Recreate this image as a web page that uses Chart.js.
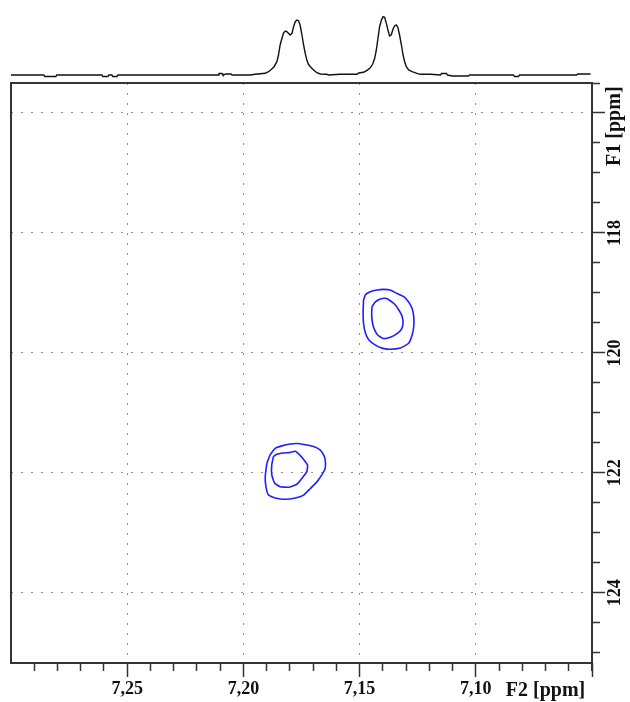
<!DOCTYPE html>
<html>
<head>
<meta charset="utf-8">
<script src="https://cdn.jsdelivr.net/npm/chart.js@4"></script>
<style>
  html, body { margin: 0; padding: 0; background: #fff; }
  #wrap { position: relative; width: 630px; height: 702px; }
  #wrap canvas { position: absolute; left: 0; top: 0; }
</style>
</head>
<body>
<div id="wrap">
  <canvas id="spectrum" width="630" height="702"></canvas>
  <canvas id="projection" width="630" height="83"></canvas>
</div>
<script>
// axis ranges (ppm), both axes run "backwards" as usual for NMR
const f2Min = 7.05, f2Max = 7.30;
const f1Min = 115.5, f1Max = 125.17;

// F2 (1H) ticks: minor every 0.01, labelled every 0.05
const f2TickValues = [7.30, 7.29, 7.28, 7.27, 7.26, 7.25, 7.24, 7.23, 7.22, 7.21, 7.20,
  7.19, 7.18, 7.17, 7.16, 7.15, 7.14, 7.13, 7.12, 7.11, 7.10, 7.09, 7.08, 7.07, 7.06, 7.05];
const f2MajorTicks = [7.25, 7.20, 7.15, 7.10];
const f2TitleAt = 7.07;
const f2Title = 'F2 [ppm]';

// F1 (15N) ticks: minor every 0.5, labelled every 2
const f1TickValues = [115.5, 116, 116.5, 117, 117.5, 118, 118.5, 119, 119.5, 120,
  120.5, 121, 121.5, 122, 122.5, 123, 123.5, 124, 124.5, 125];
const f1MajorTicks = [116, 118, 120, 122, 124];
const f1LabelledTicks = [118, 120, 122, 124];
const f1TitleAt = 116.22;
const f1Title = 'F1 [ppm]';

// 1D projection on top (F2 ppm, arbitrary intensity)
const projPpm = [7.3000, 7.2859, 7.2855, 7.2807, 7.2803, 7.2609, 7.2605, 7.2583, 7.2579, 7.2566,
  7.2562, 7.2544, 7.2540, 7.2109, 7.2105, 7.2092, 7.2088, 7.2075, 7.2053, 7.2049,
  7.1971, 7.1950, 7.1906, 7.1892, 7.1878, 7.1868, 7.1856, 7.1849, 7.1842, 7.1834,
  7.1828, 7.1820, 7.1813, 7.1806, 7.1799, 7.1791, 7.1784, 7.1777, 7.1770, 7.1763,
  7.1756, 7.1748, 7.1741, 7.1734, 7.1727, 7.1720, 7.1712, 7.1698, 7.1684, 7.1669,
  7.1641, 7.1634, 7.1583, 7.1511, 7.1504, 7.1483, 7.1468, 7.1454, 7.1444, 7.1435,
  7.1428, 7.1421, 7.1414, 7.1406, 7.1399, 7.1392, 7.1385, 7.1378, 7.1371, 7.1364,
  7.1356, 7.1349, 7.1342, 7.1335, 7.1328, 7.1320, 7.1313, 7.1306, 7.1299, 7.1289,
  7.1274, 7.1253, 7.1238, 7.1195, 7.1152, 7.1148, 7.1126, 7.1122, 7.1101, 7.1032,
  7.1027, 7.0838, 7.0834, 7.0816, 7.0812, 7.0566, 7.0562, 7.0506];
const projIntensity = [0, 0, -1.5, -1.5, 0, 0, -1.5, -1.5, 0, 0,
  -1.5, -1.5, 0, 0, 1.5, 1.5, 0, 1, 1, 0,
  0, 0.7, 1.7, 3.3, 6, 8.3, 13.3, 20, 30, 36.7,
  41.7, 44, 43.3, 41.7, 40, 41.7, 48.3, 53.3, 55, 54.3,
  50, 40, 30, 21.7, 15, 10.7, 8.3, 5, 2.3, 1,
  0.7, 0, 0.7, 0.7, 2, 2.7, 4.7, 7.3, 10.7, 16.7,
  25, 36.7, 48.3, 55, 58.3, 57.7, 51.7, 45, 39, 40,
  46, 49.3, 50, 47.3, 40, 30, 20, 13.3, 8.3, 5,
  3.3, 1.7, 0.7, 0.7, 0, 1.5, 1.5, 0, -1, -1,
  0, 0, -1.5, -1.5, 0, 0, 1, 1];

// contour lines [F2 ppm, F1 ppm]
const peakA_outer = [[7.1899, 121.84], [7.1885, 121.70], [7.1863, 121.59], [7.1834, 121.55],
  [7.1799, 121.52], [7.1770, 121.51], [7.1734, 121.53], [7.1698, 121.56], [7.1669, 121.62],
  [7.1655, 121.70], [7.1648, 121.78], [7.1648, 121.92], [7.1662, 122.03], [7.1684, 122.15],
  [7.1712, 122.26], [7.1741, 122.37], [7.1777, 122.42], [7.1820, 122.44], [7.1863, 122.42],
  [7.1892, 122.37], [7.1903, 122.23], [7.1906, 122.06], [7.1899, 121.84]];
const peakA_inner = [[7.1871, 121.73], [7.1856, 121.69], [7.1828, 121.67], [7.1799, 121.66],
  [7.1777, 121.64], [7.1758, 121.70], [7.1740, 121.78], [7.1724, 121.87], [7.1727, 121.98],
  [7.1748, 122.09], [7.1770, 122.19], [7.1806, 122.24], [7.1842, 122.23], [7.1866, 122.17],
  [7.1878, 122.03], [7.1878, 121.87], [7.1871, 121.73]];
const peakB_outer = [[7.1483, 119.12], [7.1475, 119.03], [7.1454, 118.98], [7.1425, 118.95],
  [7.1397, 118.94], [7.1368, 118.95], [7.1339, 119.01], [7.1310, 119.06], [7.1289, 119.15],
  [7.1274, 119.26], [7.1267, 119.40], [7.1267, 119.56], [7.1274, 119.70], [7.1289, 119.84],
  [7.1325, 119.92], [7.1368, 119.94], [7.1403, 119.92], [7.1432, 119.87], [7.1461, 119.78],
  [7.1475, 119.67], [7.1483, 119.51], [7.1485, 119.34], [7.1483, 119.12]];
const peakB_inner = [[7.1447, 119.23], [7.1432, 119.15], [7.1411, 119.10], [7.1389, 119.09],
  [7.1368, 119.13], [7.1346, 119.20], [7.1332, 119.28], [7.1319, 119.37], [7.1313, 119.48],
  [7.1318, 119.59], [7.1339, 119.68], [7.1368, 119.74], [7.1397, 119.76], [7.1420, 119.71],
  [7.1435, 119.62], [7.1444, 119.51], [7.1448, 119.37], [7.1447, 119.23]];

const contourColor = '#1f1fff';
const serif = '"Liberation Serif", "Times New Roman", serif';

const near = (a, b) => Math.abs(a - b) < 1e-6;
const inList = (v, list) => list.some(m => near(v, m));

// plot box as in the reference
const plotLeft = 11, plotTop = 83, plotRight = 592, plotBottom = 663;
const yAxisWidth = 630 - plotRight;
const xAxisHeight = 702 - plotBottom;
const xMajorLen = 14, yMajorLen = 13, minorLen = 8;

// rotated F1 labels are centred on this x
const f1LabelCenterX = 615;
const measure = document.createElement('canvas').getContext('2d');
measure.font = 'bold 20px ' + serif;
const f1Widest = measure.measureText(f1Title).width;
const f1Padding = f1LabelCenterX - plotRight - yMajorLen - f1Widest / 2;

const toPoints = arr => arr.map(p => ({ x: p[0], y: p[1] }));

const framePlugin = {
  id: 'frame',
  afterDatasetsDraw(chart) {
    const { ctx, chartArea: a } = chart;
    ctx.save();
    ctx.strokeStyle = '#333';
    ctx.lineWidth = 2;
    ctx.strokeRect(a.left, a.top, a.right - a.left, a.bottom - a.top);
    // right axis line runs a little past the bottom corner
    ctx.beginPath();
    ctx.moveTo(a.right, a.bottom);
    ctx.lineTo(a.right, a.bottom + 8);
    ctx.stroke();
    ctx.restore();
  }
};

function contour(data) {
  return {
    data: toPoints(data),
    showLine: true,
    borderColor: contourColor,
    borderWidth: 1.6,
    pointRadius: 0,
    tension: 0.15,
    fill: false
  };
}

new Chart(document.getElementById('spectrum'), {
  type: 'scatter',
  data: {
    datasets: [contour(peakA_outer), contour(peakA_inner), contour(peakB_outer), contour(peakB_inner)]
  },
  options: {
    responsive: false,
    animation: false,
    events: [],
    layout: { padding: { left: plotLeft, top: plotTop, right: 0, bottom: 0 } },
    plugins: { legend: { display: false }, tooltip: { enabled: false } },
    scales: {
      x: {
        type: 'linear',
        position: 'bottom',
        reverse: true,
        min: f2Min,
        max: f2Max,
        afterBuildTicks: (s) => { s.ticks = f2TickValues.map(v => ({ value: v })); },
        afterFit: (s) => { s.height = xAxisHeight; },
        border: { display: false, dash: [2, 8] },
        grid: {
          color: (c) => c.tick && inList(c.tick.value, f2MajorTicks) ? '#8f8f8f' : 'rgba(0,0,0,0)',
          lineWidth: 1,
          tickLength: xMajorLen,
          tickWidth: 1.5,
          tickColor: (c) => c.tick && near(c.tick.value, f2Max) ? 'rgba(0,0,0,0)' : '#333',
          tickBorderDash: (c) => {
            if (!c.tick) return [];
            const v = c.tick.value;
            return inList(v, f2MajorTicks) || near(v, f2Min) ? [] : [minorLen, 60];
          }
        },
        ticks: {
          autoSkip: false,
          minRotation: 0,
          maxRotation: 0,
          padding: 2,
          color: '#111',
          font: (c) => ({
            family: serif,
            weight: 'bold',
            size: c.tick && near(c.tick.value, f2TitleAt) ? 20 : 18
          }),
          callback: (v) => {
            if (near(v, f2TitleAt)) return f2Title;
            if (inList(v, f2MajorTicks)) return v.toFixed(2).replace('.', ',');
            return '';
          }
        }
      },
      y: {
        type: 'linear',
        position: 'right',
        reverse: true,
        min: f1Min,
        max: f1Max,
        afterBuildTicks: (s) => {
          s.ticks = f1TickValues.concat([f1TitleAt]).sort((a, b) => a - b).map(v => ({ value: v }));
        },
        afterFit: (s) => { s.width = yAxisWidth; },
        border: { display: false, dash: [2, 8] },
        grid: {
          color: (c) => c.tick && inList(c.tick.value, f1MajorTicks) ? '#8f8f8f' : 'rgba(0,0,0,0)',
          lineWidth: 1,
          tickLength: yMajorLen,
          tickWidth: 1.5,
          tickColor: (c) => c.tick && near(c.tick.value, f1TitleAt) ? 'rgba(0,0,0,0)' : '#333',
          tickBorderDash: (c) => {
            if (!c.tick) return [];
            return inList(c.tick.value, f1MajorTicks) ? [] : [minorLen, 60];
          }
        },
        ticks: {
          autoSkip: false,
          minRotation: 90,
          maxRotation: 90,
          crossAlign: 'center',
          padding: f1Padding,
          color: '#111',
          font: (c) => ({
            family: serif,
            weight: 'bold',
            size: c.tick && near(c.tick.value, f1TitleAt) ? 20 : 18
          }),
          callback: (v) => {
            if (near(v, f1TitleAt)) return f1Title;
            if (inList(v, f1LabelledTicks)) return String(v);
            return '';
          }
        }
      }
    }
  },
  plugins: [framePlugin]
});

// projection trace, same F2 scale, no axes
new Chart(document.getElementById('projection'), {
  type: 'line',
  data: {
    datasets: [{
      data: projPpm.map((x, i) => ({ x: x, y: projIntensity[i] })),
      borderColor: '#111',
      borderWidth: 1.4,
      pointRadius: 0,
      tension: 0
    }]
  },
  options: {
    responsive: false,
    animation: false,
    events: [],
    layout: { padding: { left: plotLeft, right: yAxisWidth, top: 0, bottom: 0 } },
    plugins: { legend: { display: false }, tooltip: { enabled: false } },
    scales: {
      x: { type: 'linear', reverse: true, min: f2Min, max: f2Max, display: false },
      y: { min: -8, max: 75, display: false }
    }
  }
});
</script>
</body>
</html>
